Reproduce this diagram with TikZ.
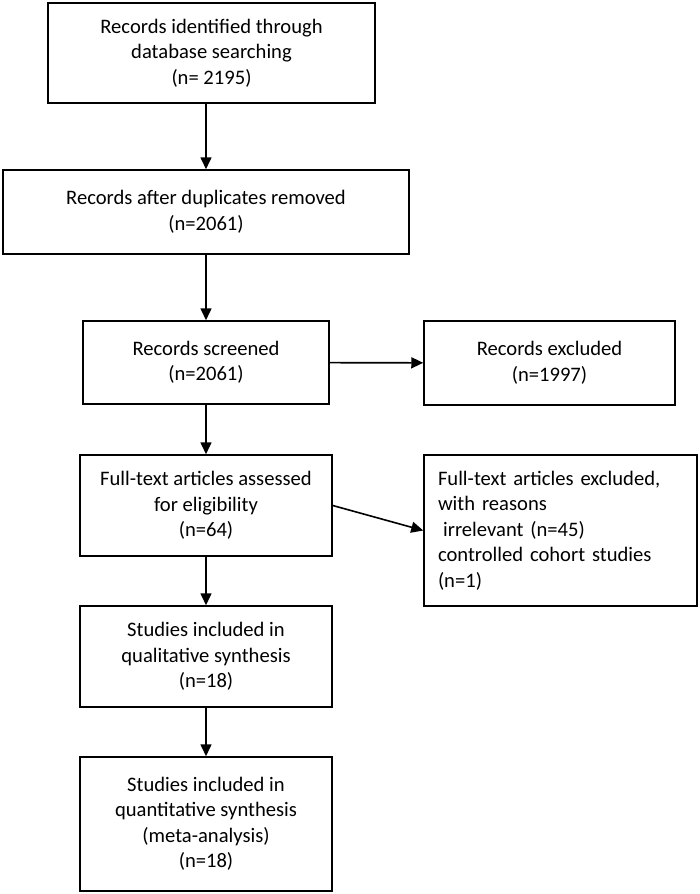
\documentclass[tikz,border=0pt]{standalone}
\usepackage{fontspec}
\setmainfont{Carlito}
\usetikzlibrary{arrows.meta}
\begin{document}
\begin{tikzpicture}[x=1pt,y=-1pt,
    box/.style={draw,line width=1.5pt,rectangle,align=center,inner sep=0pt,
      font=\fontsize{20.6}{25.5}\selectfont},
    arr/.style={line width=1.6pt,-{Triangle[length=12pt,width=11pt]}}]
      \useasboundingbox (0,0) rectangle (700,894);
      \node[box,minimum width=327pt,minimum height=100pt] (ident) at (211.5,53) {Records identified through\\database searching\\(n= 2195)};
      \node[box,minimum width=406pt,minimum height=84pt] (dupl) at (206,212) {Records after duplicates removed\\(n=2061)};
      \node[box,minimum width=246pt,minimum height=83pt] (screen) at (206,362.5) {Records screened\\(n=2061)};
      \node[box,minimum width=251pt,minimum height=84pt] (excl) at (549.5,363) {Records excluded\\(n=1997)};
      \node[box,minimum width=252pt,minimum height=101pt] (full) at (206,505.5) {Full-text articles assessed\\for eligibility\\(n=64)};
      \node[box,align=left,text width=245pt,inner xsep=14pt,minimum height=151pt] (fullexcl) at (560.5,530.5) {Full-text articles excluded,\\with reasons\\\hspace*{0.25em}irrelevant (n=45)\\controlled cohort studies\\(n=1)};
      \node[box,minimum width=252pt,minimum height=101pt] (qual) at (206,656.5) {Studies included in\\qualitative synthesis\\(n=18)};
      \node[box,minimum width=252pt,minimum height=134pt] (quant) at (206,824) {Studies included in\\quantitative synthesis\\(meta-analysis)\\(n=18)};
      \draw[arr] (ident.south -| dupl.north) -- (dupl.north);
      \draw[arr] (dupl) -- (screen);
      \draw[arr] (screen) -- (excl);
      \draw[arr] (screen) -- (full);
      \draw[arr] (full.east) -- (fullexcl.west);
      \draw[arr] (full) -- (qual);
      \draw[arr] (qual) -- (quant);
    \end{tikzpicture}
\end{document}
